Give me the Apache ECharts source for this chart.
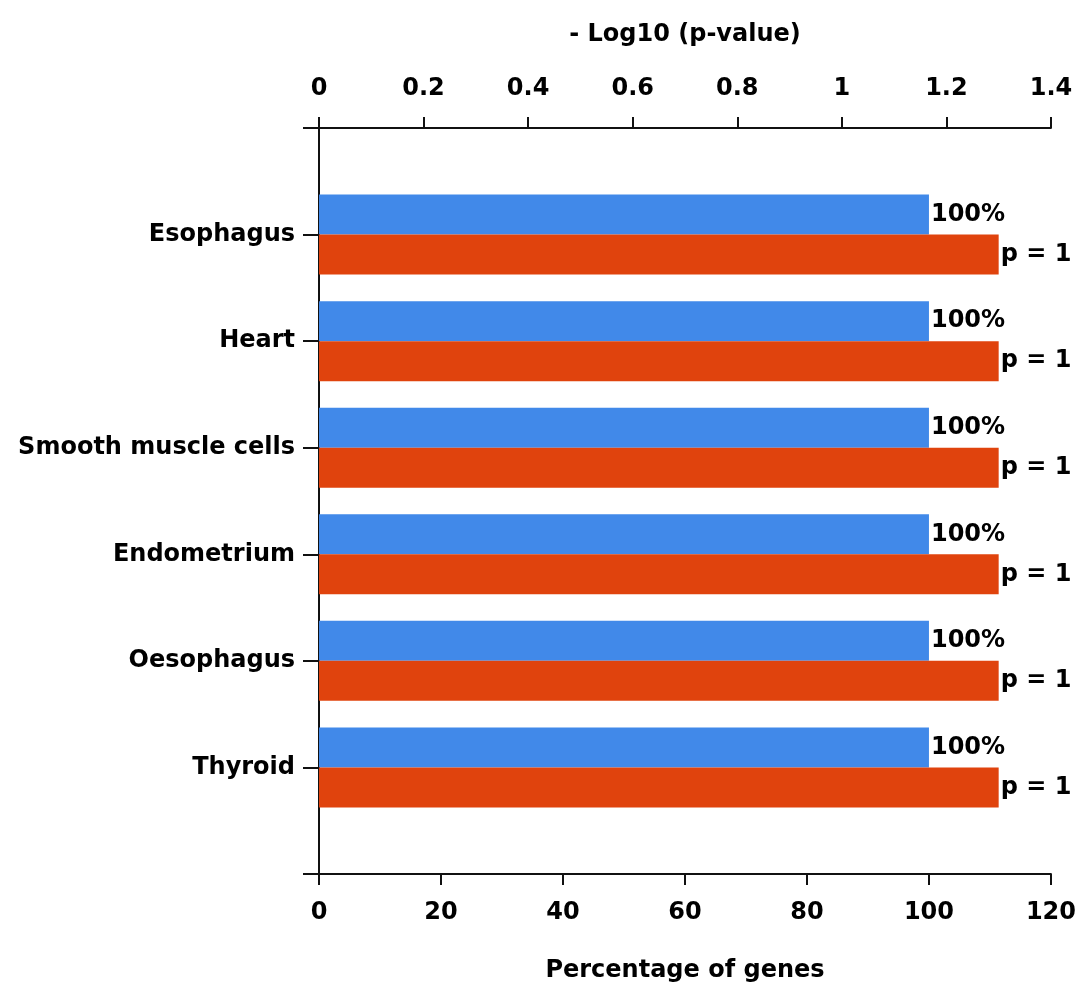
<!DOCTYPE html>
<html><head><meta charset="utf-8">
<script src="https://cdn.jsdelivr.net/npm/echarts@6/dist/echarts.min.js"></script>
<style>html,body{margin:0;padding:0;background:#fff}#c{width:1079px;height:988px}</style>
</head><body><div id="c"></div>
<script>
// ---- data ----
const categories = ['Esophagus', 'Heart', 'Smooth muscle cells', 'Endometrium', 'Oesophagus', 'Thyroid'];
const percentGenes = [100, 100, 100, 100, 100, 100];
const negLog10P = [1.3, 1.3, 1.3, 1.3, 1.3, 1.3];
const percentLabels = ['100%', '100%', '100%', '100%', '100%', '100%'];
const pLabels = ['p = 1', 'p = 1', 'p = 1', 'p = 1', 'p = 1', 'p = 1'];
const bottomAxisName = 'Percentage of genes';
const topAxisName = '- Log10 (p-value)';

// empty slots above and below the categories
const pad = a => [null].concat(a, [null]);
const yCats = [''].concat(categories, ['']);

const FONT = 'DejaVu Sans';
const FS = 24;
const txt = {fontFamily: FONT, fontWeight: 'bold', fontSize: FS, color: '#000'};
const lineStyle = {color: '#111', width: 2};

const chart = echarts.init(document.getElementById('c'), null, {renderer: 'canvas'});
chart.setOption({
  animation: false,
  backgroundColor: '#fff',
  grid: {left: 319, right: 28, top: 128, bottom: 113, containLabel: false},
  yAxis: {
    type: 'category', data: yCats, inverse: true, boundaryGap: false,
    axisLine: {show: true, lineStyle: lineStyle},
    axisTick: {show: true, length: 16, lineStyle: lineStyle},
    axisLabel: Object.assign({margin: 24}, txt),
    splitLine: {show: false}
  },
  xAxis: [
    {
      type: 'value', position: 'bottom', min: 0, max: 120, interval: 20,
      name: bottomAxisName, nameLocation: 'middle', nameGap: 85,
      nameTextStyle: Object.assign({}, txt),
      axisLine: {show: true, onZero: false, lineStyle: lineStyle},
      axisTick: {show: true, length: 11, lineStyle: lineStyle},
      axisLabel: Object.assign({margin: 27}, txt),
      splitLine: {show: false}
    },
    {
      type: 'value', position: 'top', min: 0, max: 1.4, interval: 0.2,
      name: topAxisName, nameLocation: 'middle', nameGap: 81,
      nameTextStyle: Object.assign({}, txt),
      axisLine: {show: true, onZero: false, lineStyle: lineStyle},
      axisTick: {show: true, length: 11, lineStyle: lineStyle},
      axisLabel: Object.assign({margin: 27}, txt),
      splitLine: {show: false}
    }
  ],
  series: [
    {
      type: 'bar', xAxisIndex: 0, data: pad(percentGenes),
      barWidth: 40, barGap: '0%',
      itemStyle: {color: '#4189E9'},
      label: Object.assign({show: true, position: 'right', distance: 2,
        formatter: p => pad(percentLabels)[p.dataIndex] || ''}, txt)
    },
    {
      type: 'bar', xAxisIndex: 1, data: pad(negLog10P),
      barWidth: 40, barGap: '0%',
      itemStyle: {color: '#E0430D'},
      label: Object.assign({show: true, position: 'right', distance: 2,
        formatter: p => pad(pLabels)[p.dataIndex] || ''}, txt)
    }
  ]
});
</script></body></html>
